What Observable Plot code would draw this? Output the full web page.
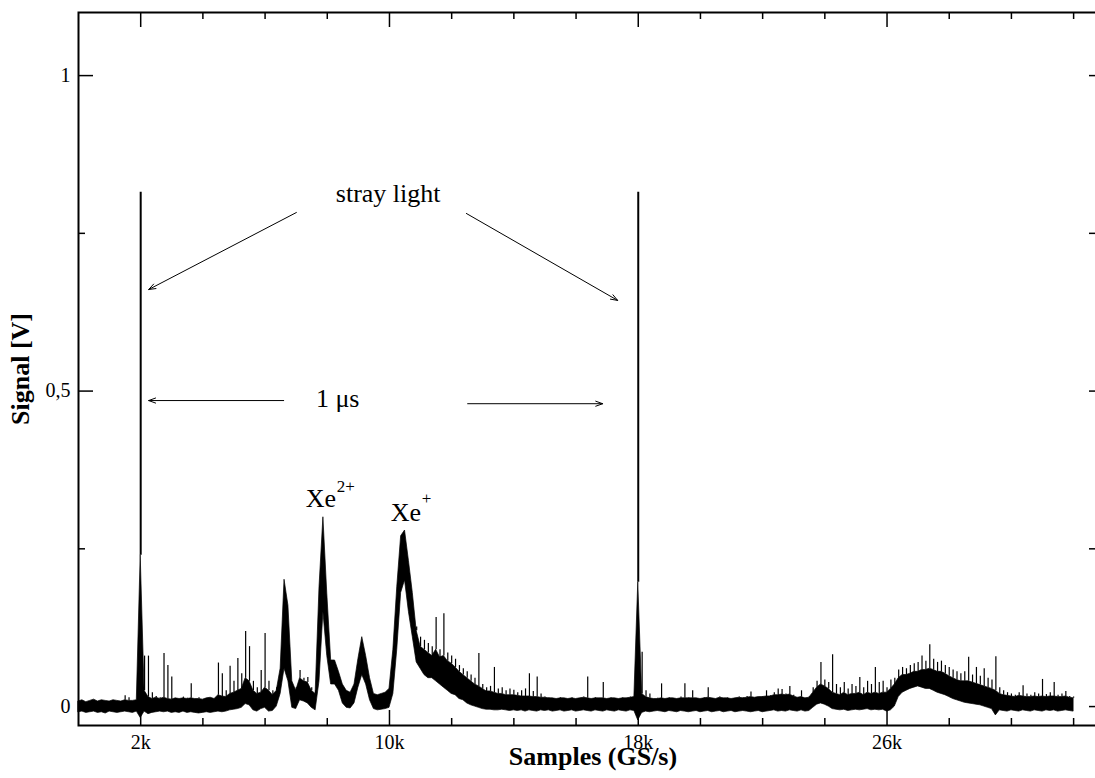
<!DOCTYPE html>
<html><head><meta charset="utf-8">
<script src="https://cdn.jsdelivr.net/npm/d3@7"></script>
<script src="https://cdn.jsdelivr.net/npm/@observablehq/plot@0.6"></script>
<style>html,body{margin:0;padding:0;background:#fff;overflow:hidden}</style>
</head><body><div id="chart"></div>
<script>
// Samples per column; each column holds the trace's lower edge, the top of its dense band,
// and the tip of its tallest spike, all in mV.
const sampleStep = 125;
const hiMV = [
  8,10,7,9,11,8,10,9,8,10,9,8,17,14,9,10,
  815,80,80,22,16,14,84,65,47,13,12,15,13,36,12,14,
  11,13,14,12,69,52,25,64,40,76,52,119,95,40,30,57,
  116,40,25,30,60,201,160,40,30,57,45,46,30,25,189,300,
  179,73,73,55,35,25,22,35,75,110,80,45,20,18,20,22,
  28,90,189,270,279,231,180,126,110,105,100,95,141,90,147,85,
  80,75,65,60,55,50,45,84,35,30,32,62,28,30,25,28,
  26,22,25,28,52,24,47,20,15,14,13,12,14,13,12,14,
  12,13,15,47,12,14,13,38,12,14,13,12,14,13,15,16,
  815,86,25,20,12,13,36,12,14,13,12,15,36,14,25,13,
  12,14,30,13,12,15,13,14,12,13,15,14,16,23,14,15,
  16,25,17,22,28,27,20,32,18,14,25,13,15,30,40,70,
  42,38,82,35,30,38,28,35,32,46,30,40,35,62,38,40,
  30,42,45,58,62,60,65,68,70,80,72,98,75,70,72,65,
  62,58,55,52,55,78,50,62,48,60,45,42,79,30,25,22,
  20,18,22,33,20,18,22,20,43,19,22,38,18,20,24,16,15
];
const bandMV = [
  8,10,7,9,11,8,10,9,8,10,9,8,10,9,9,10,
  240,25,15,12,14,12,14,12,11,13,12,13,12,13,12,12,
  11,13,14,12,18,16,15,20,22,25,28,45,40,25,20,22,
  30,25,18,25,60,201,160,40,25,45,40,38,25,20,189,300,
  179,73,73,55,35,25,22,35,75,110,80,45,20,18,20,22,
  28,90,189,270,279,231,180,120,95,90,85,80,90,78,80,72,
  68,62,55,50,45,40,35,32,28,24,24,22,20,20,18,18,
  18,17,16,16,16,15,15,14,14,13,13,12,13,13,12,13,
  12,13,14,13,12,13,13,13,12,13,13,12,13,13,14,15,
  197,20,15,13,12,12,13,12,13,13,12,13,13,13,13,13,
  12,13,14,13,12,14,13,13,12,13,14,13,14,15,14,15,
  15,16,16,18,18,19,18,19,16,14,15,13,14,22,30,35,
  32,28,22,20,18,22,18,20,20,22,18,22,20,22,20,22,
  22,28,35,45,50,50,52,55,55,58,58,60,58,55,55,52,
  48,45,42,40,40,40,38,36,34,32,30,28,25,20,18,17,
  16,15,17,16,15,15,16,15,16,15,16,16,15,15,16,14,13
];
const loMV = [
  -9,-8,-10,-9,-8,-10,-9,-11,-8,-9,-10,-9,-8,-9,-10,-8,
  -18,-8,-12,-10,-9,-8,-9,-8,-10,-9,-10,-8,-10,-9,-10,-11,
  -10,-9,-10,-9,-8,-9,-8,-6,-5,-4,-2,4,2,-6,-8,-4,
  -2,-8,-7,0,20,60,40,-2,-4,10,8,5,-2,-6,40,150,
  80,35,35,25,5,-2,-3,5,30,50,35,10,-4,-6,-5,-4,
  -2,20,90,180,200,150,110,70,60,50,45,45,40,35,30,25,
  20,18,12,10,5,2,0,-2,-4,-5,-5,-6,-6,-5,-6,-7,
  -6,-7,-6,-8,-6,-7,-8,-6,-7,-6,-8,-7,-6,-8,-7,-6,
  -8,-7,-6,-7,-8,-6,-7,-8,-6,-7,-8,-6,-7,-8,-6,-7,
  -22,-10,-8,-9,-8,-7,-8,-9,-7,-8,-9,-7,-8,-9,-8,-7,
  -9,-8,-7,-9,-8,-7,-9,-8,-7,-9,-8,-7,-8,-9,-8,-7,
  -9,-8,-7,-6,-8,-7,-8,-6,-7,-8,-6,-8,-7,-2,3,5,
  3,0,-4,-5,-6,-5,-7,-6,-5,-6,-5,-4,-6,-5,-6,-5,
  -8,-6,0,15,22,25,28,30,32,30,28,28,25,22,20,18,
  15,12,10,8,6,5,4,3,2,0,-2,-4,-14,-6,-7,-8,
  -6,-7,-8,-6,-7,-8,-6,-7,-8,-6,-7,-6,-8,-7,-6,-7,-8
];

const xMajorTicks = [2000, 10000, 18000, 26000];
const xMinorTicks = [4000, 6000, 8000, 12000, 14000, 16000, 20000, 22000, 24000, 28000, 30000, 32000];
const yMajorTicks = [0, 0.5, 1];
const yMinorTicks = [0.25, 0.75];
const xTickLabels = ["2k", "10k", "18k", "26k"];
const yTickLabels = ["0", "0,5", "1"];

// annotations
const noteText = ["stray light", "1 μs"];
const noteX = [9958, 8334];
const noteY = [0.8125, 0.4876];
const noteAnchor = ["middle", "start"];
const ionText = ["Xe", "Xe"];
const ionX = [7305, 10039];
const ionY = [0.329, 0.308];
const supText = ["2+", "+"];
const supX = [8302, 11035];
const supY = [0.349, 0.330];

const arrowX1 = [7006, 12473, 6598, 12514];
const arrowY1 = [0.783, 0.7815, 0.485, 0.480];
const arrowX2 = [2257, 17338, 2257, 16855];
const arrowY2 = [0.661, 0.6437, 0.485, 0.480];

const cols = hiMV.map((h, i) => ({x: i * sampleStep, hi: h / 1000, band: bandMV[i] / 1000, lo: loMV[i] / 1000}));
const spikes = cols.filter(d => d.hi > d.band && d.hi < 0.5);
const stray = cols.filter(d => d.hi >= 0.5);
const notes = noteText.map((t, i) => ({t, x: noteX[i], y: noteY[i], a: noteAnchor[i]}));
const ions = ionText.map((t, i) => ({t, x: ionX[i], y: ionY[i]}));
const sups = supText.map((t, i) => ({t, x: supX[i], y: supY[i]}));
const arrows = arrowX1.map((d, i) => ({x1: d, y1: arrowY1[i], x2: arrowX2[i], y2: arrowY2[i]}));
const xLabels = xMajorTicks.map((v, i) => ({v, t: xTickLabels[i]}));
const yLabels = yMajorTicks.map((v, i) => ({v, t: yTickLabels[i]}));

const W = 1095, H = 778, mL = 78, mR = -2, mT = 12, mB = 53;
const pw = W - mL - mR, ph = H - mT - mB;
const font = "Liberation Serif, Times New Roman, serif";

const chart = Plot.plot({
  width: W, height: H,
  marginLeft: mL, marginRight: mR, marginTop: mT, marginBottom: mB,
  x: {domain: [0, 32768], axis: null},
  y: {domain: [-0.03, 1.1], axis: null},
  style: {fontFamily: font, fontSize: "20px", background: "#fff", color: "#000", overflow: "hidden"},
  marks: [
    Plot.areaY(cols, {x: "x", y1: "lo", y2: "band", fill: "#000", stroke: "#000", strokeWidth: 0.7}),
    Plot.ruleX(spikes, {x: "x", y1: "band", y2: "hi", stroke: "#000", strokeWidth: 1.2}),
    Plot.ruleX(stray, {x: "x", y1: "band", y2: "hi", stroke: "#000", strokeWidth: 2}),
    // inward ticks
    Plot.tickX(xMajorTicks, {x: d => d, insetTop: ph - 15, stroke: "#000", strokeWidth: 1.5}),
    Plot.tickX(xMajorTicks, {x: d => d, insetBottom: ph - 15, stroke: "#000", strokeWidth: 1.5}),
    Plot.tickX(xMinorTicks, {x: d => d, insetTop: ph - 7, stroke: "#000", strokeWidth: 1.5}),
    Plot.tickX(xMinorTicks, {x: d => d, insetBottom: ph - 7, stroke: "#000", strokeWidth: 1.5}),
    Plot.tickY(yMajorTicks, {y: d => d, insetRight: pw - 15, stroke: "#000", strokeWidth: 1.5}),
    Plot.tickY(yMinorTicks, {y: d => d, insetRight: pw - 7, stroke: "#000", strokeWidth: 1.5}),
    Plot.tickY(yMajorTicks.concat(yMinorTicks), {y: d => d, insetLeft: pw - 8, stroke: "#000", strokeWidth: 1.5}),
    Plot.frame({stroke: "#000", strokeWidth: 2}),
    // tick labels
    Plot.text(xLabels, {x: "v", frameAnchor: "bottom", dy: 17, text: "t", textAnchor: "middle", lineAnchor: "middle", fontSize: 20}),
    Plot.text(yLabels, {y: "v", frameAnchor: "left", dx: -8, text: "t", textAnchor: "end", lineAnchor: "middle", fontSize: 20}),
    // axis titles
    Plot.text(["Samples (GS/s)"], {frameAnchor: "bottom", dx: 5, dy: 39, text: d => d, textAnchor: "middle", fontWeight: "bold", fontSize: 26}),
    Plot.text(["Signal [V]"], {frameAnchor: "left", rotate: -90, dx: -58, text: d => d, textAnchor: "middle", fontWeight: "bold", fontSize: 26}),
    // annotations
    Plot.text(notes, {x: "x", y: "y", text: "t", textAnchor: d => d.a, fontSize: 26}),
    Plot.text(ions, {x: "x", y: "y", text: "t", textAnchor: "start", fontSize: 26}),
    Plot.text(sups, {x: "x", y: "y", text: "t", textAnchor: "start", fontSize: 17}),
    Plot.arrow(arrows, {x1: "x1", y1: "y1", x2: "x2", y2: "y2", stroke: "#000", strokeWidth: 1, headLength: 11, headAngle: 40})
  ]
});
document.getElementById("chart").appendChild(chart);
</script>
</body></html>
